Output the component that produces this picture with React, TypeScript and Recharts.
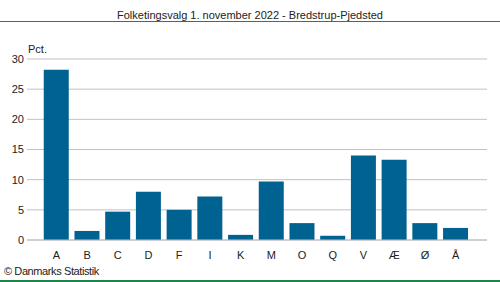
import { Bar, BarChart, CartesianGrid, XAxis, YAxis } from 'recharts';

const parties = ['A', 'B', 'C', 'D', 'F', 'I', 'K', 'M', 'O', 'Q', 'V', 'Æ', 'Ø', 'Å'];
const percent = [28.2, 1.5, 4.7, 8.0, 5.0, 7.2, 0.85, 9.7, 2.8, 0.7, 14.0, 13.3, 2.8, 2.0];
const yTicks = [0, 5, 10, 15, 20, 25, 30];

const data = parties.map((name, i) => ({ name, value: percent[i] }));

const font = '"Liberation Sans", Arial, sans-serif';

export default function App() {
  return (
    <div
      style={{
        position: 'absolute',
        left: 0,
        top: 0,
        width: 500,
        height: 282,
        background: '#fff',
        fontFamily: font,
        color: '#222',
        overflow: 'hidden',
      }}
    >
      <div
        style={{
          position: 'absolute',
          left: 0,
          top: 9,
          width: 500,
          textAlign: 'center',
          fontSize: 11,
        }}
      >
        Folketingsvalg 1. november 2022 - Bredstrup-Pjedsted
      </div>
      <div style={{ position: 'absolute', left: 0, top: 21, width: 500, height: 1, background: '#1e8449' }} />
      <div style={{ position: 'absolute', left: 28, top: 43, fontSize: 11 }}>Pct.</div>
      <BarChart
        width={500}
        height={282}
        data={data}
        margin={{ top: 59, right: 13, left: 0, bottom: 0 }}
        barCategoryGap="9%"
      >
        <CartesianGrid vertical={false} stroke="#c0c0c8" />
        <XAxis
          dataKey="name"
          axisLine={{ stroke: '#c0c0c8' }}
          tickLine={false}
          tickSize={0}
          tickMargin={11}
          padding={{ left: 14, right: 16 }}
          height={42}
          interval={0}
          tick={{ fill: '#222', fontSize: 11, fontFamily: font }}
        />
        <YAxis
          width={27}
          domain={[0, 30]}
          ticks={yTicks}
          axisLine={false}
          tickLine={false}
          tickSize={0}
          tickMargin={3}
          tick={{ fill: '#222', fontSize: 11, fontFamily: font }}
        />
        <Bar dataKey="value" fill="#006290" isAnimationActive={false} />
      </BarChart>
      <div style={{ position: 'absolute', left: 4, top: 265, fontSize: 11, letterSpacing: -0.4 }}>
        © Danmarks Statistik
      </div>
      <div style={{ position: 'absolute', left: 0, top: 280, width: 500, height: 2, background: '#1e8449' }} />
    </div>
  );
}
